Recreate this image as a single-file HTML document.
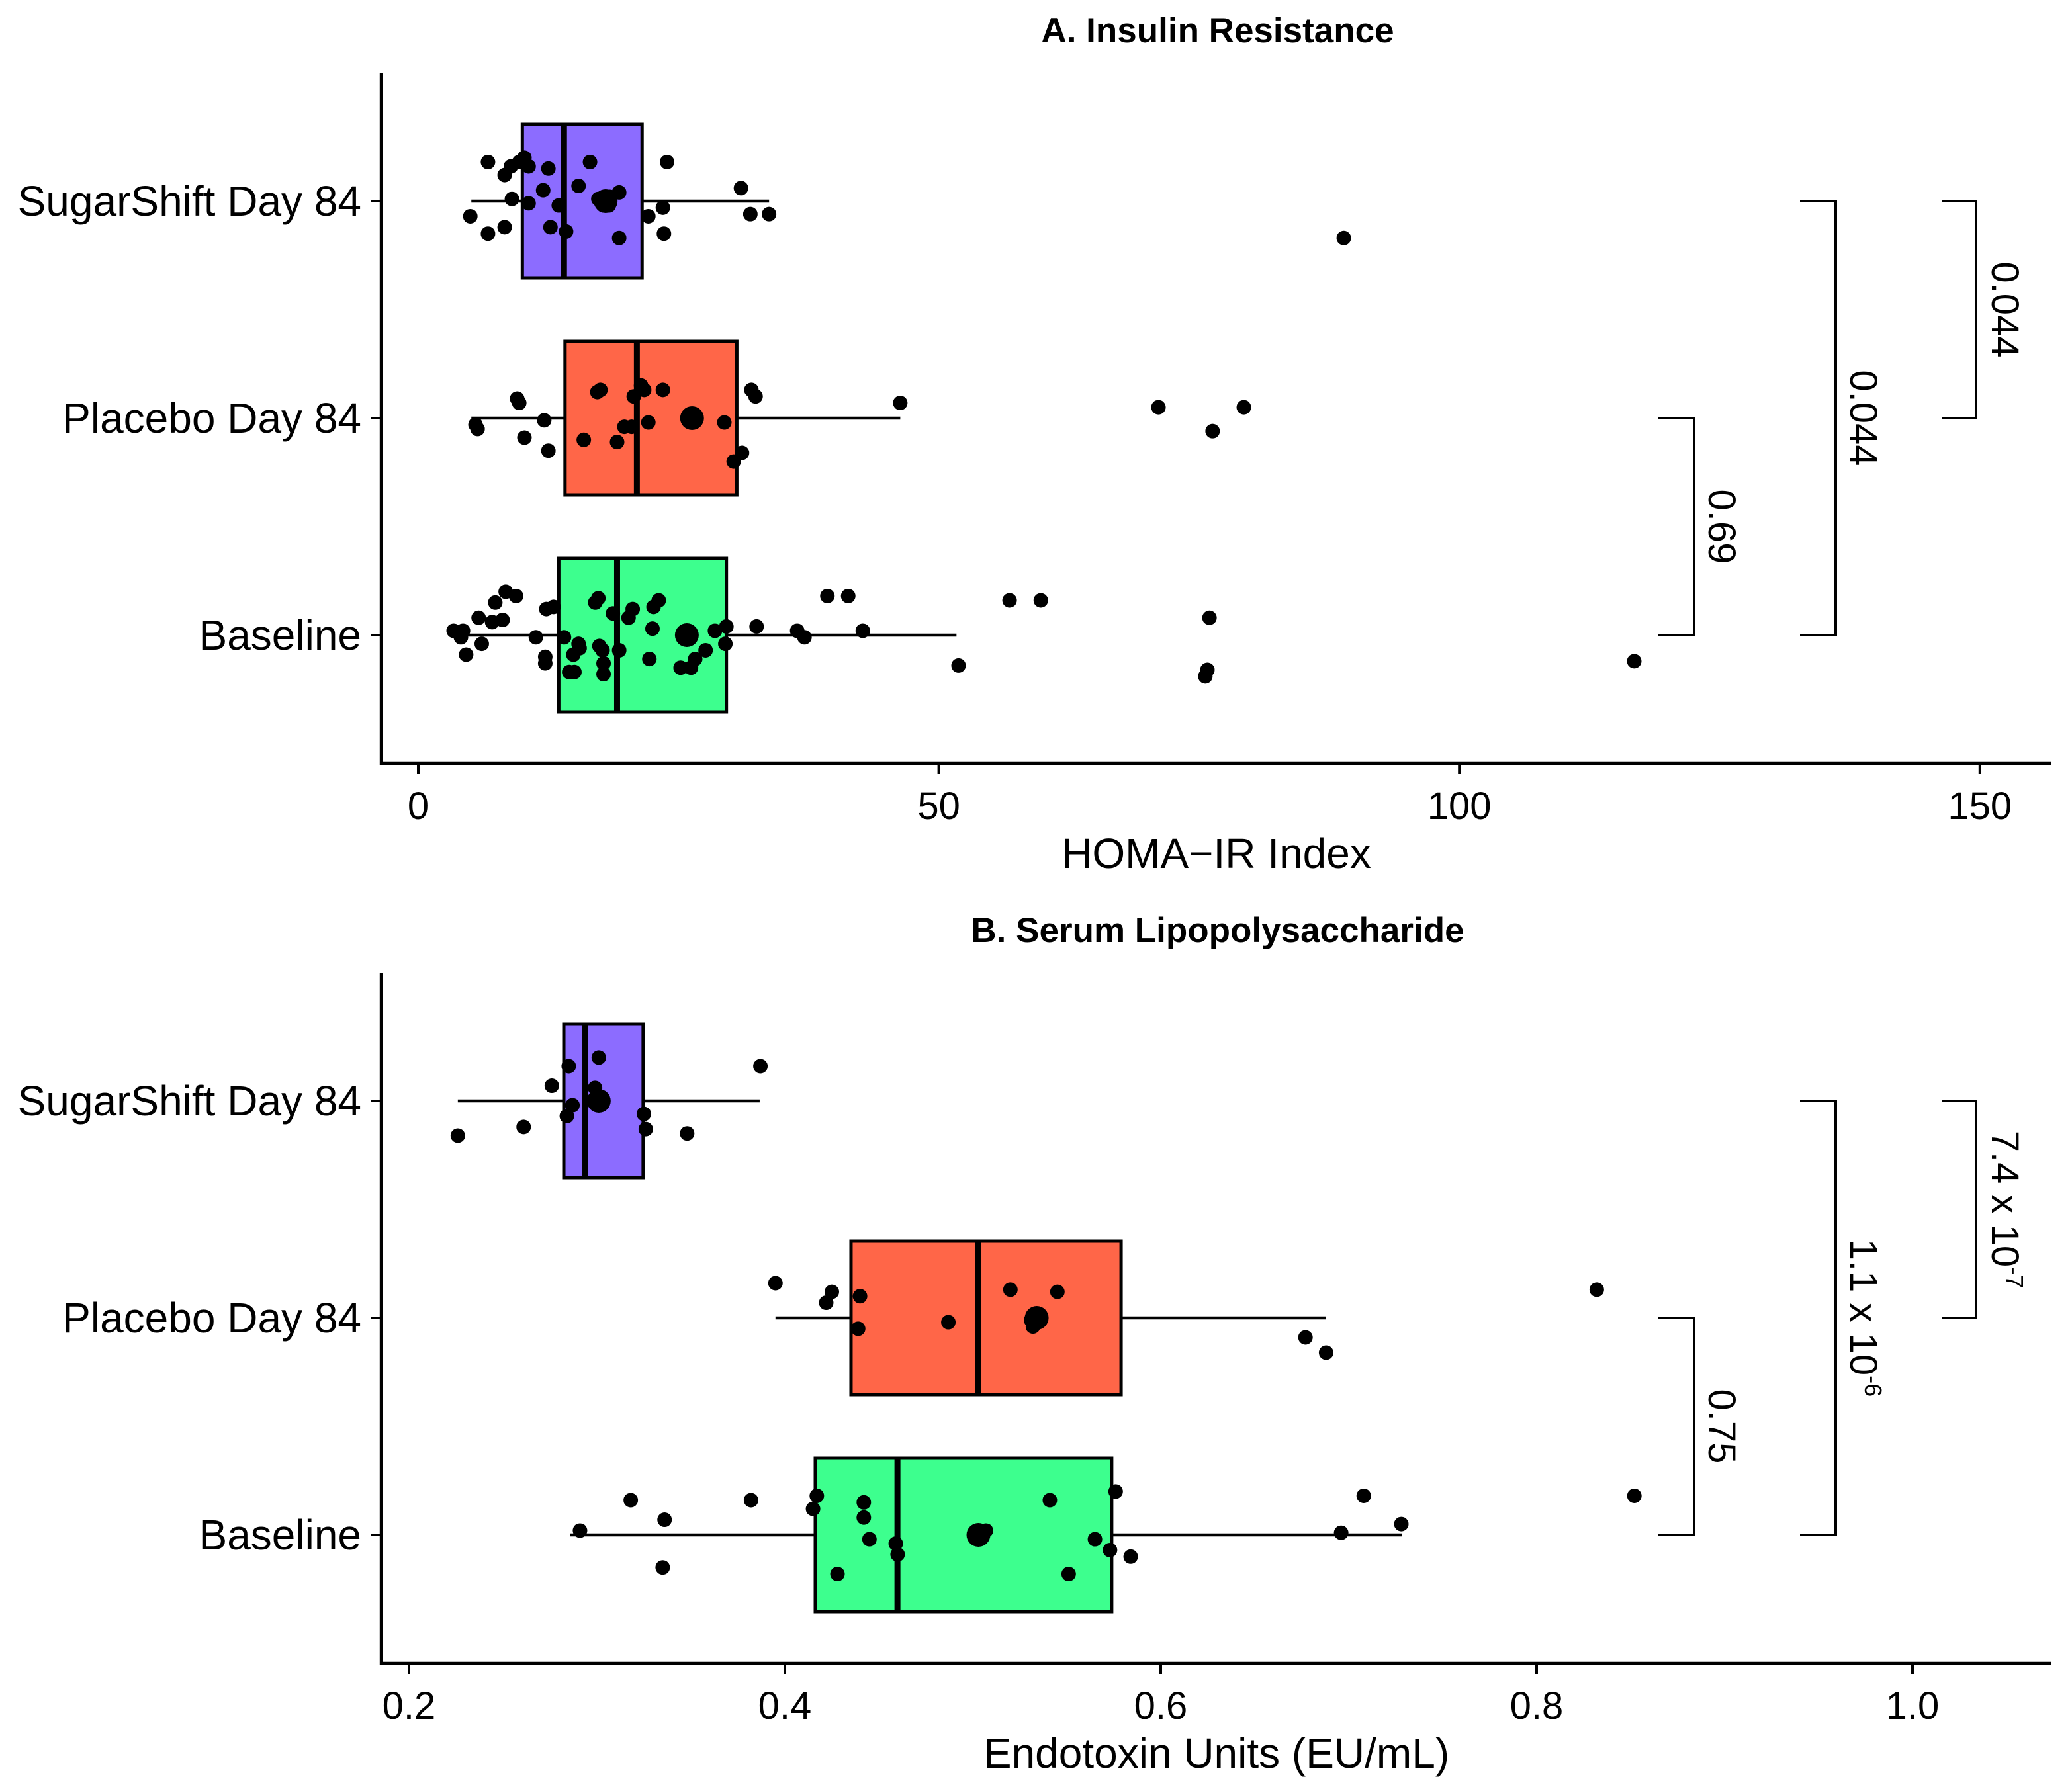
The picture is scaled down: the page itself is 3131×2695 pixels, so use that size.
<!DOCTYPE html>
<html><head><meta charset="utf-8">
<style>html,body{margin:0;padding:0;background:#fff}svg{display:block}text{font-family:"Liberation Sans",Arial,sans-serif;fill:#000}</style>
</head><body>
<svg id="chart" xmlns="http://www.w3.org/2000/svg" width="3131" height="2695" viewBox="0 0 1565.5 1347.5">
<rect width="1565.5" height="1347.5" fill="#fff"/>
</svg>
<script>
const categories = ["SugarShift Day 84","Placebo Day 84","Baseline"];
const colors = ["#8c6cff","#ff6648","#3dff8e"];
// Panel A stats [q1, median, q3, whiskerLow, whiskerHigh]
const statsA = [[10.0,14.0,21.5,5.1,33.7],[14.1,21.0,30.6,5.1,46.3],[13.5,19.1,29.6,3.4,51.7]];
const meansA = [18.0,26.3,25.8];
const valsA0 = [6.7,8.3,8.9,9.7,10.2,10.6,12.5,16.5,23.9,9.0,10.6,12.0,13.5,15.4,17.3,18.1,18.4,19.3,17.8,18.3,23.5,22.1,31.0,31.9,33.7,5.0,6.7,8.3,12.7,14.2,19.3,23.6,88.9];
const jitA0 = [-.18,-.12,-.16,-.18,-.2,-.16,-.15,-.18,-.18,-.01,.01,-.05,.02,-.07,-.01,0,-.02,-.04,.02,.02,.03,.07,-.06,.06,.06,.07,.15,.12,.12,.14,.17,.15,.17];
const valsA1 = [9.5,9.7,17.2,17.5,21.4,21.7,20.7,23.5,32.0,32.4,46.3,71.1,79.3,5.5,5.7,10.2,12.1,12.5,15.9,19.1,19.8,20.5,22.1,29.4,30.3,31.1,76.3];
const jitA1 = [-.09,-.07,-.12,-.13,-.15,-.13,-.10,-.13,-.13,-.10,-.07,-.05,-.05,.03,.05,.09,.01,.15,.10,.11,.04,.04,.02,.02,.2,.16,.06];
const valsA2 = [8.4,9.4,7.4,5.8,7.1,8.1,3.4,4.3,4.1,6.1,4.6,11.3,12.3,13.0,17.3,17.0,18.7,20.6,20.2,22.6,23.1,22.5,14.0,15.4,15.5,14.9,17.4,17.7,19.3,12.2,12.2,14.5,15.0,17.8,17.8,22.2,25.2,26.2,26.6,27.6,28.5,29.6,29.5,32.5,36.4,37.1,39.3,41.3,42.7,51.9,56.8,59.8,76.0,75.8,75.6,116.8];
const jitA2 = [-.2,-.18,-.15,-.08,-.06,-.07,-.02,-.02,.01,.04,.09,.01,-.12,-.13,-.17,-.15,-.10,-.12,-.08,-.13,-.16,-.03,.01,.04,.06,.09,.05,.07,.07,.10,.13,.17,.17,.13,.18,.11,.15,.15,.11,.07,-.02,-.04,.04,-.04,-.02,.01,-.18,-.18,-.02,.14,-.16,-.16,-.08,.16,.19,.12];
const ticksA = [0,50,100,150];
const pA = ["0.69","0.044","0.044"];
// Panel B
const statsB = [[0.2824,0.2937,0.3246,0.226,0.3866],[0.4352,0.5028,0.5789,0.395,0.688],[0.4162,0.4599,0.5739,0.2859,0.7282]];
const meansB = [0.301,0.534,0.503];
const valsB0 = [.226,.261,.276,.285,.287,.284,.301,.299,.325,.326,.348,.387];
const jitB0 = [.16,.12,-.07,-.16,.02,.07,-.2,-.06,.06,.13,.15,-.16];
const valsB1 = [.395,.422,.425,.440,.439,.487,.520,.545,.531,.532,.677,.688,.832];
const jitB1 = [-.16,-.07,-.12,-.10,.05,.02,-.13,-.12,.01,.04,.09,.16,-.13];
const valsB2 = [.291,.318,.336,.335,.382,.417,.415,.442,.442,.445,.459,.460,.428,.501,.507,.541,.551,.565,.573,.576,.584,.696,.708,.728,.852];
const jitB2 = [-.02,-.16,-.07,.15,-.16,-.18,-.12,-.15,-.08,.02,.04,.09,.18,-.01,-.02,-.16,.18,.02,.07,-.2,.1,-.01,-.18,-.05,-.18];
const ticksB = [0.2,0.4,0.6,0.8,1.0];
const tickLabelsB = ["0.2","0.4","0.6","0.8","1.0"];
const pB = ["0.75","1.1 x 10","7.4 x 10"];
const pBexp = ["","-6","-7"];

const svg = document.getElementById('chart');
const NS = "http://www.w3.org/2000/svg";
function mk(tag, attrs, parent){const e=document.createElementNS(NS,tag);for(const k in attrs)e.setAttribute(k,attrs[k]);(parent||svg).appendChild(e);return e;}

function panel(o){
  const g = mk('g',{});
  
  
  const x = v => o.x0 + (v - o.v0) * o.k;
  const y = i => o.top + 97 + i*164;
  const t = mk('text',{x:920,y:o.titleY,'text-anchor':'middle','font-size':26.5,'font-weight':'bold'},g);
  t.textContent = o.title;
  
  
  const axY = o.top + 522;
  const ax = mk('path',{d:`M288 ${o.top} V${axY} H1550`,stroke:'#000','stroke-width':2.2,fill:'none'},g);
  
  
  categories.forEach((c,i)=>{
    mk('line',{x1:280,x2:288,y1:y(i),y2:y(i),stroke:'#000','stroke-width':2},g);
    const l = mk('text',{x:273,y:y(i)+11,'text-anchor':'end','font-size':32},g);
    l.textContent = c;
    
    
  });
  o.ticks.forEach((tv,i)=>{
    mk('line',{x1:x(tv),x2:x(tv),y1:axY,y2:axY+8,stroke:'#000','stroke-width':2},g);
    const l = mk('text',{x:x(tv),y:axY+42,'text-anchor':'middle','font-size':29},g);
    l.textContent = o.tickLabels ? o.tickLabels[i] : String(tv);
    
    
  });
  const at = mk('text',{x:919,y:axY+79,'text-anchor':'middle','font-size':32},g);
  at.textContent = o.axisTitle;
  
  
  o.stats.forEach((s,i)=>{
    const cy = y(i);
    const w = mk('line',{x1:x(s[3]),x2:x(s[4]),y1:cy,y2:cy,stroke:'#000','stroke-width':2.2},g);
    
    
    const b = mk('rect',{x:x(s[0]),y:cy-58,width:x(s[2])-x(s[0]),height:116,fill:colors[i],stroke:'#000','stroke-width':2.5},g);
    
    
    const m = mk('line',{x1:x(s[1]),x2:x(s[1]),y1:cy-58,y2:cy+58,stroke:'#000','stroke-width':4.5},g);
    
    
  });
  o.vals.forEach((arr,i)=>{
    arr.forEach((v,j)=>{
      const d = mk('circle',{cx:x(v),cy:y(i)+o.jit[i][j]*164,r:5.5,fill:'#000'},g);
      
      
    });
    const mn = mk('circle',{cx:x(o.means[i]),cy:y(i),r:9,fill:'#000'},g);
    
    
  });
  const br = [[1,2,1253,1280,1301],[0,2,1360,1387,1408],[0,1,1467,1493,1515]];
  br.forEach((b,k)=>{
    const y1 = y(b[0]), y2 = y(b[1]);
    const p = mk('path',{d:`M${b[2]} ${y1} H${b[3]} V${y2} H${b[2]}`,stroke:'#000','stroke-width':2,fill:'none'},g);
    
    
    const cx = b[4], cy = (y1+y2)/2;
    const tx = mk('text',{x:cx,y:cy,'text-anchor':'middle','font-size':29,transform:`rotate(90 ${cx} ${cy})`,dy:10},g);
    tx.textContent = o.p[k];
    if (o.pexp && o.pexp[k]) { const ts = mk('tspan',{'font-size':18,dy:-11},tx); ts.textContent = o.pexp[k]; }
    
    
  });
}
panel({name:'panel-a-insulin',title:'A. Insulin Resistance',titleY:32,top:55,x0:316,v0:0,k:7.866,ticks:ticksA,axisTitle:'HOMA\u2212IR Index',stats:statsA,means:meansA,vals:[valsA0,valsA1,valsA2],jit:[jitA0,jitA1,jitA2],p:pA});
panel({name:'panel-b-lps',title:'B. Serum Lipopolysaccharide',titleY:712,top:735,x0:309,v0:0.2,k:1420,ticks:ticksB,tickLabels:tickLabelsB,axisTitle:'Endotoxin Units (EU/mL)',stats:statsB,means:meansB,vals:[valsB0,valsB1,valsB2],jit:[jitB0,jitB1,jitB2],p:pB,pexp:pBexp});
</script>
</body></html>
